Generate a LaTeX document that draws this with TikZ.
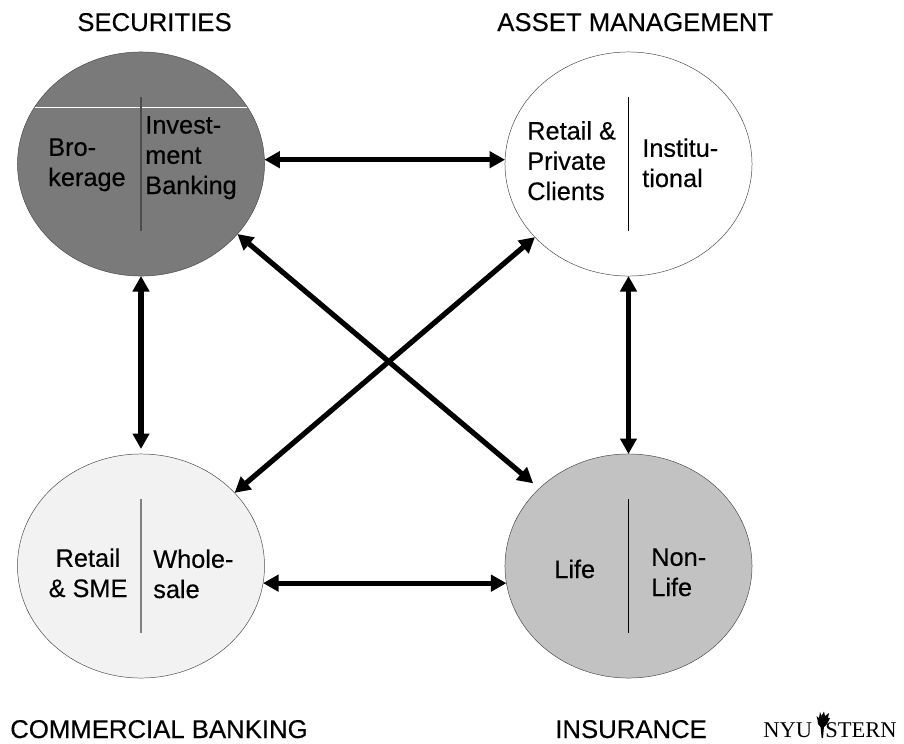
\documentclass[tikz,border=0pt]{standalone}
\usepackage{fontspec}
\setmainfont[FakeBold=0.35]{Liberation Sans}
\newfontfamily\logofont{Liberation Serif}
\usetikzlibrary{shapes.geometric,arrows.meta,calc}
\tikzset{
    market/.style={ellipse,draw=black!70,line width=0.35pt,minimum width=6.175cm,minimum height=5.6cm,inner sep=0,outer sep=0},
    title/.style={anchor=base west,inner sep=0,font=\fontsize{18.3}{22}\selectfont},
    part/.style={anchor=base west,inner sep=0,align=left,font=\fontsize{18}{21.5}\selectfont},
    link/.style={<->,>={Triangle[length=11pt,width=11.5pt]},line width=3.7pt},
    divider/.style={line width=0.8pt},
    logo/.style={anchor=base west,inner sep=0,font=\logofont\fontsize{16}{16}\selectfont}
}

\begin{document}
\begin{tikzpicture}[x=0.025cm,y=-0.025cm]
                    \useasboundingbox (0,0) rectangle (904,744);
                    \node [market,fill=black!52] (sec) at (141,164) {};
                    \node [market,fill=white] (asset) at (628.5,164) {};
                    \node [market,fill=black!5] (bank) at (141,566) {};
                    \node [market,fill=black!24] (ins) at (628.5,566) {};
                    \draw [white,line width=0.6pt] (35,107.5) -- (247,107.5);
                    \draw [divider,black!70] ($(sec.center)+(0,-67)$) -- ($(sec.center)+(0,67)$);
                    \draw [divider,black!50] ($(bank.center)+(0,-67)$) -- ($(bank.center)+(0,67)$);
                    \foreach \c in {asset,ins}
                        \draw [divider] ($(\c.center)+(0,-67)$) -- ($(\c.center)+(0,67)$);
                    \node [title] (sectitle) at (77,31) {SECURITIES};
                    \node [title] (assettitle) at (497,31) {ASSET MANAGEMENT};
                    \node [title] (banktitle) at (10,738) {COMMERCIAL BANKING};
                    \node [title] (institle) at (555,738) {INSURANCE};
                    \node [part] (brokerage) at (48,186) {Bro-\\kerage};
                    \node [part] (invest) at (145,194) {Invest-\\ment\\Banking};
                    \node [part] (private) at (527,200) {Retail \&\\Private\\Clients};
                    \node [part] (institutional) at (642,187) {Institu-\\tional};
                    \node [part,align=center,anchor=base] (retail) at (88,597) {Retail\\\& SME};
                    \node [part] (wholesale) at (153,598) {Whole-\\sale};
                    \node [part] (life) at (554,578) {Life};
                    \node [part] (nonlife) at (651,596) {Non-\\Life};
                    \draw [link] (sec.2) -- (asset.178);
                    \draw [link] (bank.-8.2) -- (ins.188.2);
                    \draw [link,shorten >=0.125cm] (sec.south) -- (bank.north);
                    \draw [link] (asset.south) -- (ins.north);
                    \draw [link,shorten >=0.2cm] (sec.-36.9) -- (ins.139.6);
                    \draw [link] (asset.218.2) -- (bank.38.7);
                    \node [logo] (nyu) at (763,737) {NYU};
                    \node [logo] (stern) at (825,737) {STERN};
                    \fill (820.5,726) -- (824,726) -- (823,738) -- (821.6,738) -- cycle;
                    \fill (817.5,720) -- (816.5,716) -- (819,718) -- (820,712) -- (821.5,716) -- (824,711.5) -- (825,716) -- (829,713) -- (828,718) -- (830,718) -- (827,724) -- (824,727) -- (820.5,727) -- (818,724) -- cycle;
                \end{tikzpicture}
\end{document}
